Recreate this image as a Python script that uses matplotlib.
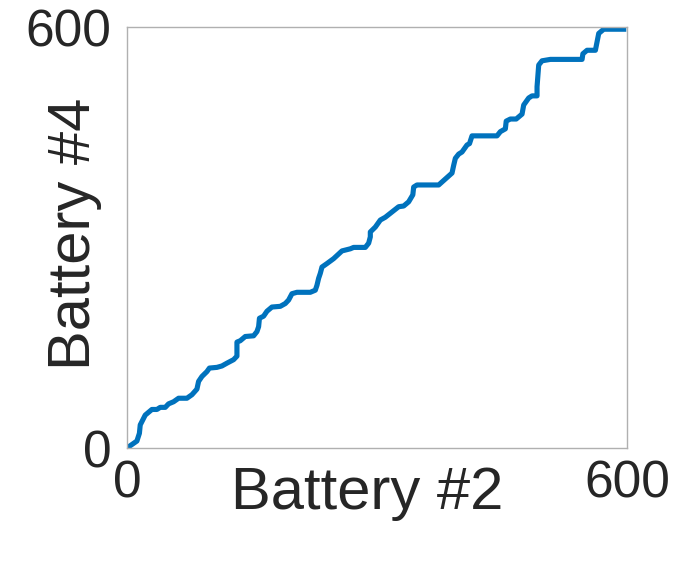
import matplotlib
matplotlib.use('Agg')
from matplotlib import pyplot as plt

# cumulative curve, battery #2 vs battery #4
battery2 = [0, 12, 15, 16, 22, 30, 36, 40, 46, 50, 56, 62, 72, 78, 84, 86, 90, 96, 99,
            108, 114, 120, 128, 132, 132, 136, 142, 152, 156, 158, 159, 164, 168, 174,
            184, 190, 194, 198, 204, 220, 226, 228, 230, 232, 234, 240, 248, 258, 268,
            272, 286, 290, 292, 292, 298, 304, 310, 326, 332, 338, 343, 344, 348, 374,
            390, 392, 394, 398, 402, 408, 411, 414, 424, 444, 448, 454, 455, 460, 467,
            474, 476, 482, 486, 492, 492, 494, 498, 508, 546, 547, 552, 562, 564, 566,
            572, 596]
battery4 = [0, 10, 21, 33, 47, 55, 55, 58, 58, 63, 66, 71, 71, 76, 84, 95, 102, 109, 114,
            115, 117, 121, 126, 131, 151, 153, 159, 160, 166, 173, 185, 188, 195, 201,
            202, 206, 211, 220, 222, 222, 225, 232, 242, 249, 258, 263, 270, 281, 284,
            286, 286, 292, 301, 308, 315, 325, 329, 344, 345, 351, 361, 372, 375, 375,
            392, 403, 413, 419, 422, 432, 434, 445, 445, 445, 451, 455, 466, 469, 469,
            476, 489, 499, 502, 502, 515, 546, 552, 554, 554, 562, 567, 567, 579, 591,
            597, 597]

text_col = '#262626'
plt.rcParams['font.family'] = ['Liberation Sans', 'DejaVu Sans']

fig = plt.figure(figsize=(6.75, 5.65), dpi=100)
ax = fig.add_axes([0.188, 0.207, 0.741, 0.745])

ax.plot(battery2, battery4, color='#0072BD', linewidth=3.7, solid_joinstyle='round')

ax.set_xlim(0, 600)
ax.set_ylim(0, 600)
ax.set_xticks([0, 600])
ax.set_yticks([0, 600])
ax.tick_params(length=0, labelsize=37, colors=text_col, pad=8)
ax.tick_params(axis='y', pad=11)

for s in ax.spines.values():
    s.set_color('#b0b0b0')
    s.set_linewidth(1.0)

ax.set_xlabel('Battery #2', fontsize=43, color=text_col, labelpad=-30)
ax.xaxis.label.set_x(0.48)
ax.set_ylabel('Battery #4', fontsize=43, color=text_col, labelpad=-55)
ax.yaxis.label.set_y(0.508)

plt.savefig('out.png', dpi=100)
